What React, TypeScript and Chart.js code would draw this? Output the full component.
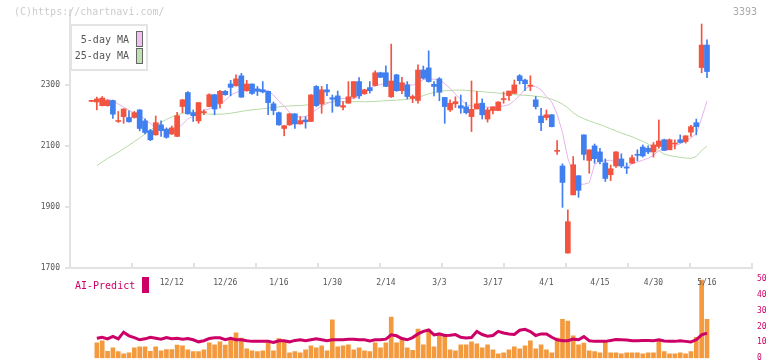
import React, { useEffect, useRef } from 'react';
import { Chart, registerables } from 'chart.js';
Chart.register(...registerables);

// trading dates, one per candle
const dates = [
  '11/21','11/22','11/25','11/26','11/27','11/28','11/29','12/2','12/3','12/4',
  '12/5','12/6','12/9','12/10','12/11','12/12','12/13','12/16','12/17','12/18',
  '12/19','12/20','12/23','12/24','12/25','12/26','12/27','12/30','1/6','1/7',
  '1/8','1/9','1/10','1/14','1/15','1/16','1/17','1/20','1/21','1/22',
  '1/23','1/24','1/27','1/28','1/29','1/30','1/31','2/3','2/4','2/5',
  '2/6','2/7','2/10','2/12','2/13','2/14','2/17','2/18','2/19','2/20',
  '2/21','2/25','2/26','2/27','2/28','3/3','3/4','3/5','3/6','3/7',
  '3/10','3/11','3/12','3/13','3/14','3/17','3/18','3/19','3/21','3/24',
  '3/25','3/26','3/27','3/28','3/31','4/1','4/2','4/3','4/4','4/7',
  '4/8','4/9','4/10','4/11','4/14','4/15','4/16','4/17','4/18','4/21',
  '4/22','4/23','4/24','4/25','4/28','4/30','5/1','5/2','5/7','5/8',
  '5/9','5/12','5/13','5/14','5/15','5/16'
];
const tickIndex = [15, 25, 35, 45, 55, 65, 75, 85, 95, 105, 115];

const open = [
  2248,2255,2258,2250,2205,2182,2222,2180,2210,2158,
  2145,2121,2177,2151,2129,2160,2200,2252,2206,2200,
  2243,2211,2269,2222,2280,2269,2293,2321,2261,2304,
  2273,2280,2278,2243,2217,2170,2167,2206,2173,2184,
  2180,2268,2233,2285,2278,2254,2232,2233,2262,2312,
  2265,2285,2282,2341,2326,2296,2314,2282,2308,2263,
  2263,2350,2323,2312,2296,2277,2230,2241,2246,2225,
  2210,2221,2239,2203,2219,2229,2245,2254,2281,2301,
  2315,2305,2298,2230,2177,2203,2164,2084,1981,1852,
  2039,1955,2073,2088,2059,2049,1994,2026,2081,2035,
  2028,2062,2070,2068,2081,2104,2117,2086,2121,2108,
  2112,2134,2164,2164,2432,2345
];
const high = [
  2249,2261,2263,2252,2251,2214,2223,2216,2214,2220,
  2190,2155,2199,2183,2160,2166,2211,2254,2279,2219,
  2243,2219,2272,2270,2283,2283,2316,2334,2339,2316,
  2305,2296,2312,2281,2245,2212,2168,2207,2207,2197,
  2197,2269,2299,2296,2303,2268,2281,2246,2312,2312,
  2325,2287,2312,2347,2343,2364,2435,2336,2326,2312,
  2268,2367,2363,2413,2312,2325,2260,2252,2262,2268,
  2244,2314,2279,2255,2226,2229,2246,2278,2281,2317,
  2335,2320,2331,2263,2224,2219,2204,2118,2042,1891,
  2066,2003,2137,2088,2107,2093,2058,2038,2082,2075,
  2045,2071,2088,2104,2101,2112,2186,2123,2124,2121,
  2137,2134,2168,2189,2501,2449
];
const low = [
  2246,2219,2232,2231,2191,2178,2175,2179,2192,2150,
  2140,2118,2136,2132,2126,2138,2131,2210,2205,2181,
  2175,2203,2229,2203,2225,2267,2265,2297,2260,2280,
  2270,2266,2275,2203,2203,2168,2134,2168,2158,2172,
  2159,2180,2230,2208,2266,2211,2230,2219,2241,2257,
  2257,2270,2274,2298,2325,2295,2260,2280,2272,2255,
  2243,2241,2320,2310,2265,2249,2175,2214,2227,2208,
  2206,2148,2222,2189,2179,2206,2216,2241,2250,2273,
  2304,2282,2282,2222,2151,2186,2163,2073,1899,1749,
  1940,1932,2055,2011,2044,2042,1984,1987,2030,2029,
  2010,2043,2052,2064,2075,2064,2093,2086,2088,2091,
  2110,2110,2132,2137,2341,2325
];
const close = [
  2247,2245,2233,2233,2250,2181,2197,2194,2194,2219,
  2183,2151,2137,2170,2156,2140,2132,2230,2276,2210,
  2183,2210,2230,2269,2240,2280,2304,2298,2331,2282,
  2304,2288,2285,2280,2239,2210,2158,2170,2206,2173,
  2186,2181,2296,2238,2285,2259,2265,2228,2241,2261,
  2312,2272,2292,2299,2341,2341,2262,2334,2282,2301,
  2257,2250,2350,2357,2303,2321,2260,2219,2239,2233,
  2229,2197,2222,2241,2189,2217,2217,2253,2266,2273,
  2331,2317,2297,2252,2199,2194,2203,2083,2035,1749,
  1940,2003,2137,2053,2101,2081,2045,2006,2035,2058,
  2031,2044,2072,2097,2093,2081,2099,2121,2088,2107,
  2121,2115,2146,2177,2358,2432
];
const ma5 = [
  null,2252,2253,2254,2249,2238,2228,2218,2208,2203,
  2188,2175,2160,2153,2151,2152,2157,2172,2190,2197,
  2207,2218,2222,2230,2240,2250,2268,2276,2282,2286,
  2288,2286,2285,2281,2268,2248,2232,2210,2200,2195,
  2197,2208,2220,2232,2240,2246,2255,2257,2255,2257,
  2263,2278,2290,2298,2303,2305,2310,2310,2306,2303,
  2300,2308,2318,2320,2320,2318,2305,2290,2270,2254,
  2236,2232,2231,2230,2228,2228,2229,2232,2236,2250,
  2266,2288,2297,2296,2285,2263,2245,2205,2145,2060,
  2010,1975,1975,1980,2040,2050,2052,2054,2046,2036,
  2030,2042,2048,2054,2060,2070,2085,2093,2097,2101,
  2108,2116,2127,2140,2192,2248
];
const ma25 = [
  null,2036,2048,2060,2070,2080,2092,2103,2115,2127,
  2140,2152,2165,2178,2188,2196,2203,2208,2211,2212,
  2210,2207,2205,2205,2205,2206,2208,2211,2214,2217,
  2219,2221,2223,2225,2227,2229,2231,2232,2233,2233,
  2235,2237,2239,2241,2243,2245,2246,2246,2246,2246,
  2246,2246,2246,2247,2248,2249,2250,2251,2252,2254,
  2256,2260,2266,2272,2276,2280,2282,2283,2284,2284,
  2283,2282,2280,2279,2277,2276,2274,2273,2271,2269,
  2268,2267,2266,2264,2262,2259,2254,2247,2238,2226,
  2210,2198,2190,2183,2177,2171,2164,2157,2150,2143,
  2137,2131,2123,2116,2107,2097,2085,2074,2069,2066,
  2063,2061,2060,2066,2086,2100
];
const volume = [
  null,9.7,11.0,4.3,6.6,4.1,2.8,3.4,6.6,7.2,
  7.2,4.3,7.2,4.7,5.5,5.5,8.2,7.8,5.3,4.1,
  4.1,5.3,9.7,8.4,10.3,8.2,11.6,16.0,12.6,5.9,
  4.7,4.1,4.7,9.5,4.7,12.4,10.3,3.4,4.1,3.4,
  5.3,7.8,6.6,7.8,4.7,24.1,7.2,7.8,8.4,5.3,
  6.6,4.7,4.1,9.7,6.6,9.7,25.9,9.7,12.4,6.6,
  4.9,18.4,8.4,17.8,7.2,14.5,14.5,5.3,4.7,8.4,
  8.4,10.3,9.1,6.6,8.4,5.3,2.8,3.4,5.3,7.2,
  5.9,7.8,11.0,5.9,8.4,5.3,3.4,12.6,24.5,23.3,
  14.1,8.4,9.5,4.7,4.1,3.4,10.3,3.4,3.4,2.8,
  3.4,3.4,3.4,2.8,3.4,3.4,11.0,4.1,2.8,2.8,
  3.4,2.8,4.1,13.2,49.2,24.5
];
const aiPredict = [
  null,12.6,13.2,12.2,13.8,12.2,16.4,14.1,13.0,11.6,
  12.2,13.2,12.6,12.0,13.0,12.2,12.6,12.0,12.4,11.6,
  10.3,11.0,12.4,12.8,12.8,11.6,12.6,11.6,11.6,11.0,
  10.6,10.6,10.6,10.6,9.9,11.0,11.0,10.3,11.2,11.6,
  11.0,11.6,12.2,11.6,11.0,11.6,11.6,11.6,12.0,12.0,
  11.6,11.6,10.8,11.6,11.6,12.0,14.7,14.1,12.4,11.6,
  13.0,15.3,16.9,17.8,14.7,15.3,14.3,14.5,14.9,13.2,
  12.8,13.0,16.9,14.9,13.8,14.3,16.9,15.9,15.3,14.9,
  17.6,18.2,16.8,14.3,15.3,15.3,13.2,11.6,11.0,11.0,
  12.0,11.6,13.6,11.0,10.6,10.6,10.6,11.2,11.8,11.6,
  11.4,11.0,11.0,11.2,11.2,11.0,11.6,10.8,10.6,10.6,
  11.0,10.6,10.2,11.6,14.7,15.8
];
const priceTicks = [1700, 1900, 2100, 2300];
const volumeTicks = [0, 10, 20, 30, 40, 50];

const X_MIN = -4.017;
const X_MAX = 123.41;
const MONO = '"DejaVu Sans Mono", monospace';
const UP = '#3f7ff0';
const DOWN = '#f25440';
const AXIS = '#e2e2e2';
const TEXT = '#555555';
const MAGENTA = '#cc0066';

export default function App() {
  const topRef = useRef<HTMLCanvasElement>(null);
  const botRef = useRef<HTMLCanvasElement>(null);

  useEffect(() => {
    const idx = close.map((_, i) => i);
    const colors = idx.map((i) => (close[i] >= open[i] ? UP : DOWN));
    const font = { family: MONO, size: 8 };

    const top = new Chart(topRef.current as HTMLCanvasElement, {
      type: 'bar',
      data: {
        datasets: [
          {
            type: 'line', label: '5-day MA', order: 3,
            data: idx.map((i) => ({ x: i, y: ma5[i] })) as any,
            borderColor: '#e6b3ec', borderWidth: 1, pointRadius: 0, tension: 0,
          },
          {
            type: 'line', label: '25-day MA', order: 4,
            data: idx.map((i) => ({ x: i, y: ma25[i] })) as any,
            borderColor: '#b6daa6', borderWidth: 1, pointRadius: 0, tension: 0,
          },
          {
            type: 'bar', label: 'wick', order: 2, grouped: false,
            data: idx.map((i) => ({ x: i, y: [low[i], high[i]] })) as any,
            backgroundColor: colors, barThickness: 1, minBarLength: 1,
          },
          {
            type: 'bar', label: 'body', order: 1, grouped: false,
            data: idx.map((i) => ({ x: i, y: [open[i], close[i]] })) as any,
            backgroundColor: colors, barThickness: 5, minBarLength: 1,
          },
        ],
      },
      options: {
        responsive: false,
        animation: false,
        devicePixelRatio: 1,
        layout: { padding: { top: 10, right: 20, left: 0, bottom: 0 } },
        plugins: { legend: { display: false }, tooltip: { enabled: false } },
        scales: {
          x: {
            type: 'linear', min: X_MIN, max: X_MAX, position: 'bottom', weight: 1, offset: false,
            afterBuildTicks: (s: any) => { s.ticks = tickIndex.map((v) => ({ value: v })); },
            afterFit: (s: any) => { s.height = 32; },
            ticks: {
              font, color: TEXT, padding: 10, maxRotation: 0, autoSkip: false,
              callback: (v: any) => dates[Math.round(Number(v))] ?? '',
            },
            grid: { display: true, offset: false, drawOnChartArea: false, drawTicks: false, color: 'rgba(0,0,0,0)' },
            border: { display: true, color: AXIS, width: 2 },
          },
          xg: {
            type: 'linear', min: 0, max: 11, position: 'bottom', weight: 0, offset: false,
            afterBuildTicks: (s: any) => { s.ticks = Array.from({ length: 12 }, (_, k) => ({ value: k })); },
            afterFit: (s: any) => { s.height = 0; },
            ticks: { display: false },
            grid: { display: true, offset: false, drawOnChartArea: false, drawTicks: true, tickLength: -5, color: AXIS, lineWidth: 2 },
            border: { display: false },
          },
          y: {
            type: 'linear', min: 1700, max: 2547, position: 'left',
            afterFit: (s: any) => { s.width = 70; },
            afterBuildTicks: (s: any) => { s.ticks = priceTicks.map((v) => ({ value: v })); },
            ticks: { font, color: TEXT, padding: 5, callback: (v: any) => String(v) },
            grid: { display: true, drawOnChartArea: false, drawTicks: true, tickLength: 5, color: AXIS, lineWidth: 2 },
            border: { display: true, color: AXIS, width: 2 },
          },
        },
      } as any,
    });

    const bot = new Chart(botRef.current as HTMLCanvasElement, {
      type: 'bar',
      data: {
        datasets: [
          {
            type: 'line', label: 'AI-Predict', order: 0, yAxisID: 'yv',
            data: idx.map((i) => ({ x: i, y: aiPredict[i] })) as any,
            borderColor: MAGENTA, borderWidth: 3, pointRadius: 0, tension: 0,
          },
          {
            type: 'bar', label: 'volume', order: 1, yAxisID: 'yv', grouped: false,
            data: idx.map((i) => ({ x: i, y: volume[i] })) as any,
            backgroundColor: '#f39a3e', barThickness: 4,
          },
        ],
      },
      options: {
        responsive: false,
        animation: false,
        devicePixelRatio: 1,
        layout: { padding: { top: 0, right: 0, left: 70, bottom: 0 } },
        plugins: { legend: { display: false }, tooltip: { enabled: false } },
        scales: {
          x: { type: 'linear', min: X_MIN, max: X_MAX, display: false, offset: false },
          yv: {
            type: 'linear', min: 0, max: 50, position: 'right',
            afterFit: (s: any) => { s.width = 20; },
            afterBuildTicks: (s: any) => { s.ticks = volumeTicks.map((v) => ({ value: v })); },
            ticks: { font, color: MAGENTA, padding: 5 },
            grid: { display: false, drawTicks: false },
            border: { display: false },
          },
        },
      } as any,
    });

    return () => { top.destroy(); bot.destroy(); };
  }, []);

  const legendText: React.CSSProperties = {
    position: 'absolute', left: 0, width: 129, textAlign: 'right',
    fontSize: 10, lineHeight: '12px', color: '#555', whiteSpace: 'nowrap',
  };
  return (
    <div style={{ position: 'fixed', left: 0, top: 0, width: 772, height: 361, background: '#fff', overflow: 'hidden', fontFamily: MONO }}>
      <canvas ref={botRef} width={772} height={99} style={{ position: 'absolute', left: 0, top: 269, width: 772, height: 99 }} />
      <canvas ref={topRef} width={772} height={300} style={{ position: 'absolute', left: 0, top: 0, width: 772, height: 300 }} />
      <div style={{ position: 'absolute', left: 14, top: 6, fontSize: 10, lineHeight: '12px', color: '#cccccc', whiteSpace: 'nowrap' }}>(C)https://chartnavi.com/</div>
      <div style={{ position: 'absolute', right: 15, top: 6, fontSize: 10, lineHeight: '12px', color: '#aaaaaa' }}>3393</div>
      <div style={{ position: 'absolute', left: 70, top: 24, width: 74, height: 43, border: '2px solid #e4e4e4', background: '#fff' }} />
      <div style={{ ...legendText, top: 34 }}>5-day MA</div>
      <div style={{ position: 'absolute', left: 136, top: 31, width: 5, height: 14, border: '1px solid #666', background: '#f0c0f0' }} />
      <div style={{ ...legendText, top: 50 }}>25-day MA</div>
      <div style={{ position: 'absolute', left: 136, top: 48, width: 5, height: 14, border: '1px solid #666', background: '#c0e0b0' }} />
      <div style={{ position: 'absolute', left: 75, top: 280, fontSize: 10, lineHeight: '12px', color: MAGENTA, whiteSpace: 'nowrap' }}>AI-Predict</div>
      <div style={{ position: 'absolute', left: 142, top: 277, width: 7, height: 16, background: MAGENTA }} />
    </div>
  );
}
